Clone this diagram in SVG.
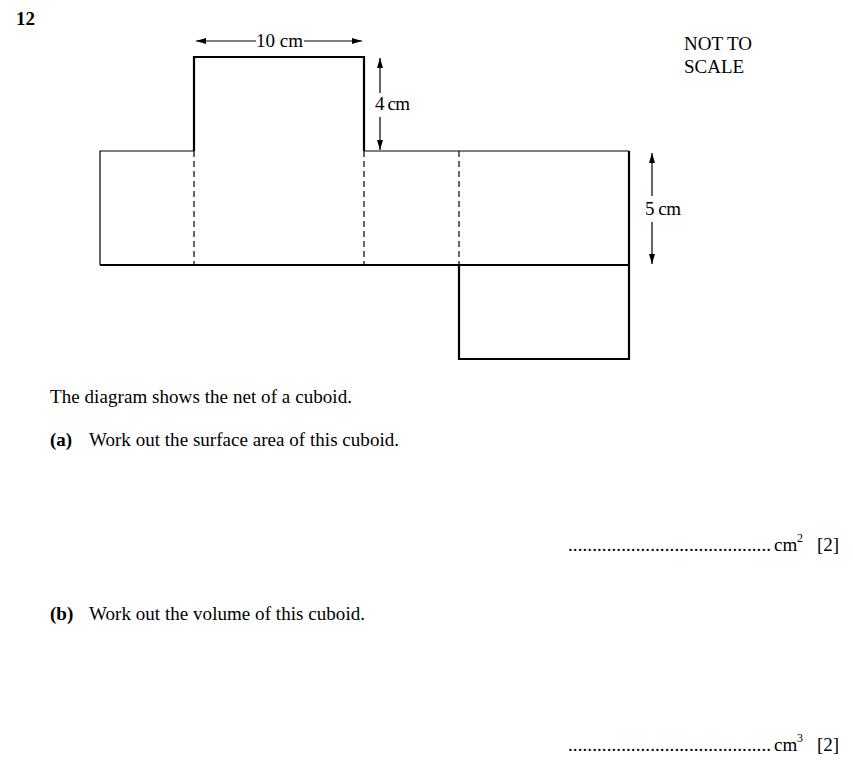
<svg xmlns="http://www.w3.org/2000/svg" width="853" height="761" viewBox="0 0 853 761">
<style>
.thick{stroke:#000;stroke-width:2.2;fill:none}
.thin{stroke:#000;stroke-width:1.2;fill:none}
.dash{stroke:#000;stroke-width:1.2;stroke-dasharray:6,4;fill:none}
</style>
<defs><marker id="ah" viewBox="0 0 10 6" refX="10" refY="3" markerWidth="10" markerHeight="6" orient="auto-start-reverse" markerUnits="userSpaceOnUse"><path d="M0,0L10,3L0,6z" fill="#000"/></marker></defs>
<rect width="853" height="761" fill="#fff"/>
<g id="net">
<path class="thin" d="M364,151H629M194,151H100V265"/>
<path class="thick" d="M194,151V57H364V151M629,151V359H459V265M100,265H629"/>
<path class="dash" d="M194,151V265" stroke-width="2"/>
<path class="dash" d="M364,151V265M459,151V265"/>
</g>
<g id="connectors">
<line class="thin" x1="196" y1="41" x2="256" y2="41" marker-start="url(#ah)"/>
<line class="thin" x1="304" y1="41" x2="362" y2="41" marker-end="url(#ah)"/>
<line class="thin" x1="380" y1="58" x2="380" y2="93" marker-start="url(#ah)"/>
<line class="thin" x1="380" y1="117" x2="380" y2="150" marker-end="url(#ah)"/>
<line class="thin" x1="652" y1="153" x2="652" y2="196" marker-start="url(#ah)"/>
<line class="thin" x1="652" y1="222" x2="652" y2="264" marker-end="url(#ah)"/>
</g>
<g font-family="'Liberation Serif','Times New Roman',serif" font-size="19" fill="#000">
<text x="16" y="25" font-weight="bold">12</text>
<text x="256" y="47" textLength="47">10 cm</text>
<text x="375" y="110" textLength="35">4 cm</text>
<text x="645" y="215" textLength="36">5 cm</text>
<text x="684" y="50">NOT TO</text>
<text x="684" y="73">SCALE</text>
<text x="50" y="403" textLength="302">The diagram shows the net of a cuboid.</text>
<text x="50" y="446" font-weight="bold">(a)</text>
<text x="89" y="446" textLength="310">Work out the surface area of this cuboid.</text>
<text x="568" y="551" textLength="203" lengthAdjust="spacing">..........................................</text>
<text x="774" y="551">cm</text><text x="797" y="542" font-size="12">2</text><text x="817" y="551">[2]</text>
<text x="50" y="620" font-weight="bold">(b)</text>
<text x="89" y="620" textLength="276">Work out the volume of this cuboid.</text>
<text x="568" y="751" textLength="203" lengthAdjust="spacing">..........................................</text>
<text x="774" y="751">cm</text><text x="797" y="742" font-size="12">3</text><text x="817" y="751">[2]</text>
</g>
</svg>
